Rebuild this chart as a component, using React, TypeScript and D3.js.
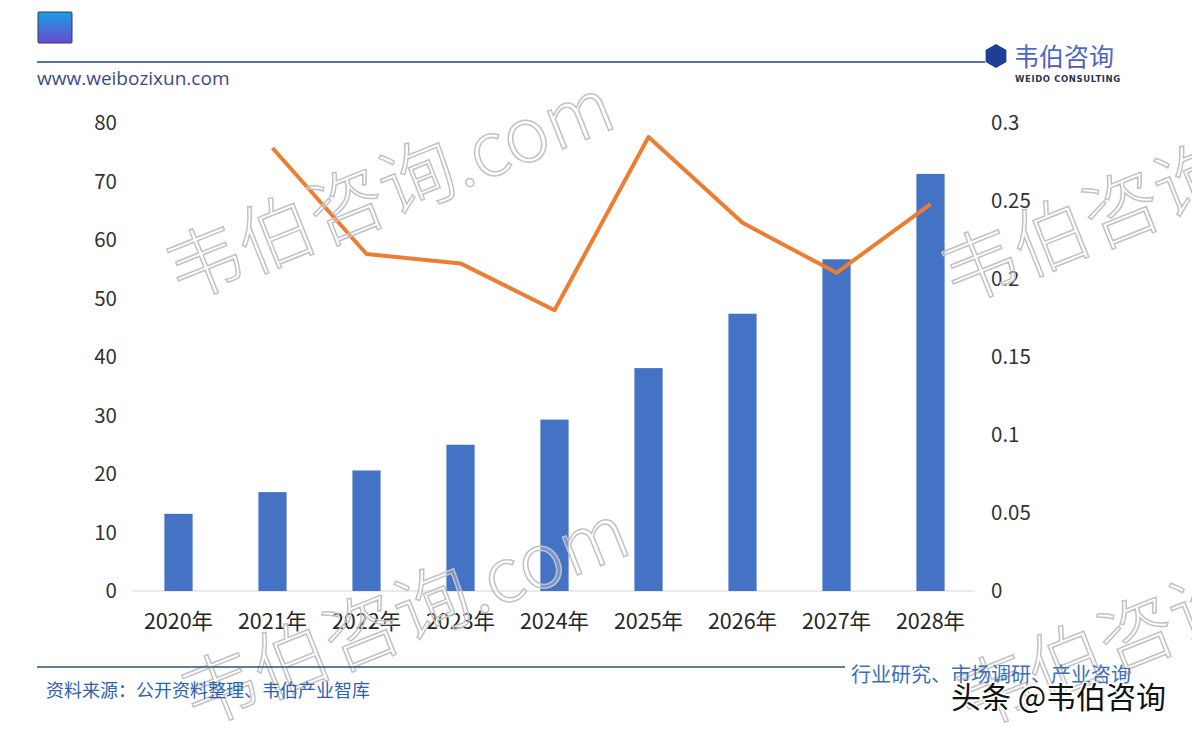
import React from 'react';
import * as d3 from 'd3';

const years = ['2020年', '2021年', '2022年', '2023年', '2024年', '2025年', '2026年', '2027年', '2028年'];
const marketSize = [13.2, 16.9, 20.6, 25.0, 29.3, 38.1, 47.4, 56.7, 71.3];
const growthRate: (number | null)[] = [null, 0.284, 0.216, 0.21, 0.18, 0.291, 0.236, 0.204, 0.248];
const leftTicks = [0, 10, 20, 30, 40, 50, 60, 70, 80];
const rightTicks = [0, 0.05, 0.1, 0.15, 0.2, 0.25, 0.3];

const W = 1192;
const H = 733;
const FONT = '"Noto Sans CJK SC", "Noto Sans", sans-serif';

// watermark anchor points (text start)
const marks = [
  { x: 180, y: 302 },
  { x: 195, y: 728 },
  { x: 955, y: 305 },
  { x: 970, y: 730 },
];

const App: React.FC = () => {
  const x = d3.scaleBand<string>().domain(years).range([131.5, 977.5]).paddingInner(0.7).paddingOuter(0.35);
  const yL = d3.scaleLinear().domain([0, 80]).range([591, 123]);
  const yR = d3.scaleLinear().domain([0, 0.3]).range([591, 123]);
  const cx = (d: string) => (x(d) as number) + x.bandwidth() / 2;

  const lineData = years
    .map((y, i) => ({ y, v: growthRate[i] }))
    .filter((d) => d.v !== null) as { y: string; v: number }[];
  const line = d3
    .line<{ y: string; v: number }>()
    .x((d) => cx(d.y))
    .y((d) => yR(d.v));

  return (
    <svg
      width={W}
      height={H}
      style={{ position: 'absolute', left: 0, top: 0, background: '#fff' }}
      fontFamily={FONT}
    >
      <defs>
        <linearGradient id="sq" x1="0" y1="0" x2="0" y2="1">
          <stop offset="0" stopColor="#1c9fe0" />
          <stop offset="1" stopColor="#6a4ad2" />
        </linearGradient>
        <linearGradient id="logoTxt" x1="0" y1="0" x2="0" y2="1">
          <stop offset="0" stopColor="#3f7ed0" />
          <stop offset="1" stopColor="#5a4fb0" />
        </linearGradient>
      </defs>

      {/* header */}
      <rect x={38} y={12} width={34} height={31} fill="url(#sq)" stroke="#2a3a70" strokeWidth={1} rx={1} />
      <line x1={37} x2={985} y1={62} y2={62} stroke="#5a7396" strokeWidth={2} />
      <text x={37} y={85} fontSize={19} fill="#3b4c82" fontFamily='"Open Sans", sans-serif'>
        www.weibozixun.com
      </text>
      <path
        d={d3.range(6).map((i) => {
          const a = Math.PI / 6 + (i * Math.PI) / 3;
          return `${i ? 'L' : 'M'}${996 + 12 * Math.cos(a)},${56 + 12 * Math.sin(a)}`;
        }).join('') + 'Z'}
        fill="#1f3f95"
      />
      <text x={1014} y={66} fontSize={25} fill="url(#logoTxt)">韦伯咨询</text>
      <text x={1015} y={82} fontSize={8.5} fontWeight="bold" fill="#2c3550" letterSpacing={0.6} fontFamily='"DejaVu Sans", sans-serif'>
        WEIDO CONSULTING
      </text>

      {/* axis baseline */}
      <line x1={133} x2={975} y1={591} y2={591} stroke="#d4d4d4" strokeWidth={1} />

      {/* bars */}
      {years.map((yr, i) => (
        <rect
          key={yr}
          x={x(yr)}
          y={yL(marketSize[i])}
          width={x.bandwidth()}
          height={yL(0) - yL(marketSize[i])}
          fill="#4472c4"
        />
      ))}

      {/* growth line */}
      <path d={line(lineData) || ''} fill="none" stroke="#ed7d31" strokeWidth={4} strokeLinejoin="round" />

      {/* left ticks */}
      {leftTicks.map((t) => (
        <text key={t} x={117} y={yL(t)} dy="0.35em" textAnchor="end" fontSize={20.5} fill="#333">
          {t}
        </text>
      ))}
      {/* right ticks */}
      {rightTicks.map((t) => (
        <text key={t} x={991} y={yR(t)} dy="0.35em" textAnchor="start" fontSize={20.5} fill="#333">
          {t}
        </text>
      ))}
      {/* x labels */}
      {years.map((yr) => (
        <text key={yr} x={cx(yr)} y={621} dy="0.35em" textAnchor="middle" fontSize={21.5} fill="#262626">
          {yr}
        </text>
      ))}

      {/* watermarks */}
      {marks.map((m, i) => (
        <text
          key={i}
          transform={`translate(${m.x},${m.y}) rotate(-21.8)`}
          fontSize={76}
          fill="rgba(255,255,255,0.25)"
          stroke="#c2c2c2"
          strokeWidth={1.5}
          fontWeight={300}
        >
          韦伯咨询.com
        </text>
      ))}

      {/* footer */}
      <line x1={37} x2={845} y1={667} y2={667} stroke="#34506f" strokeWidth={1.5} />
      <text x={851} y={682} fontSize={20} fill="#3b6fb8">行业研究、市场调研、产业咨询</text>
      <text x={46} y={697} fontSize={18} fill="#2f62ad">资料来源：公开资料整理、韦伯产业智库</text>
      <text
        x={951}
        y={708}
        fontSize={30}
        fill="#111"
        stroke="#fff"
        strokeWidth={3}
        paintOrder="stroke"
      >
        头条 @韦伯咨询
      </text>
    </svg>
  );
};

export default App;
